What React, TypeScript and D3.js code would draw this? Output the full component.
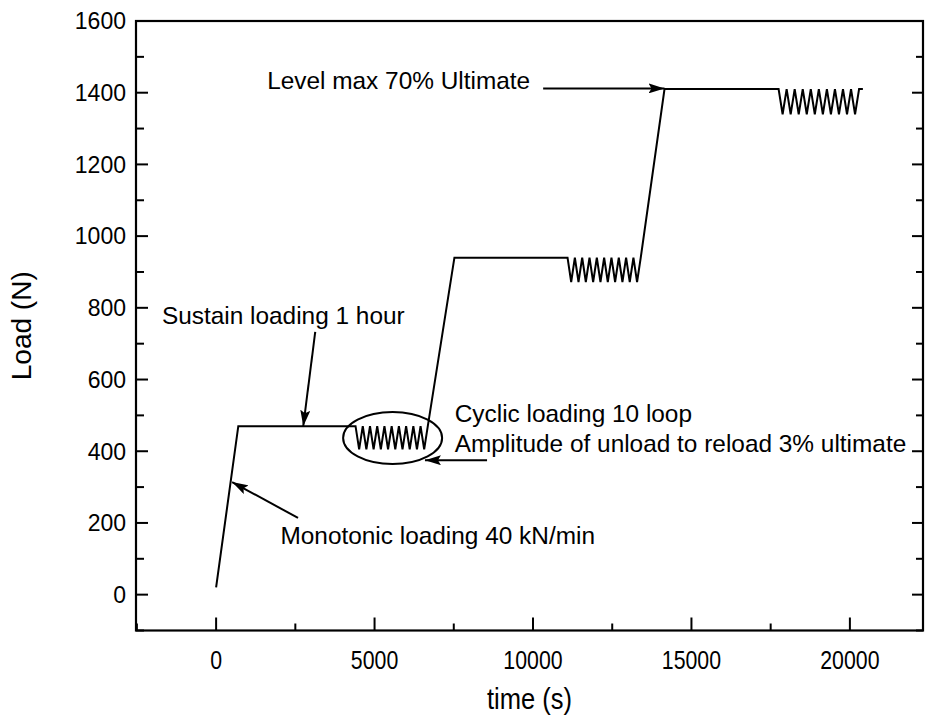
import React from "react";
import * as d3 from "d3";

// ---- data ----
const xMajorTicks = [0, 5000, 10000, 15000, 20000];
const xMinorTicks = [-2500, 2500, 7500, 12500, 17500];
const yMajorTicks = [0, 200, 400, 600, 800, 1000, 1200, 1400, 1600];
const yMinorTicks = [-100, 100, 300, 500, 700, 900, 1100, 1300, 1500];

const rampTime = [0, 700, 4400];
const rampLoad = [20, 470, 470];
const cycle1Time = [4514, 4628, 4742, 4856, 4970, 5084, 5198, 5312, 5426, 5540, 5654, 5768, 5882, 5996, 6110, 6224, 6338, 6452, 6566, 6680];
const cycle1Load = [405, 470, 405, 470, 405, 470, 405, 470, 405, 470, 405, 470, 405, 470, 405, 470, 405, 470, 405, 470];
const stage2Time = [7520, 11090];
const stage2Load = [940, 940];
const cycle2Time = [11205, 11321, 11436, 11552, 11667, 11783, 11898, 12014, 12129, 12245, 12360, 12476, 12591, 12707, 12822, 12938, 13053, 13169, 13284, 13400];
const cycle2Load = [872, 940, 872, 940, 872, 940, 872, 940, 872, 940, 872, 940, 872, 940, 872, 940, 872, 940, 872, 940];
const stage3Time = [14150, 17750];
const stage3Load = [1410, 1410];
const cycle3Time = [17877, 18004, 18131, 18258, 18385, 18512, 18639, 18766, 18893, 19020, 19147, 19274, 19401, 19528, 19655, 19782, 19909, 20036, 20163, 20290];
const cycle3Load = [1340, 1410, 1340, 1410, 1340, 1410, 1340, 1410, 1340, 1410, 1340, 1410, 1340, 1410, 1340, 1410, 1340, 1410, 1340, 1410];
const endTime = [20410];
const endLoad = [1410];

const timeAll = [...rampTime, ...cycle1Time, ...stage2Time, ...cycle2Time, ...stage3Time, ...cycle3Time, ...endTime];
const loadAll = [...rampLoad, ...cycle1Load, ...stage2Load, ...cycle2Load, ...stage3Load, ...cycle3Load, ...endLoad];

// annotation labels and their anchor points (data units)
const labels = [
  "Sustain loading 1 hour",
  "Monotonic loading 40 kN/min",
  "Cyclic loading 10 loop",
  "Amplitude of unload to reload 3% ultimate",
  "Level max 70% Ultimate",
];
const labelTime = [-1710, 2030, 7530, 7530, 1610];
const labelLoad = [755, 142, 481, 397, 1409];

// arrows: tail -> tip (data units)
const arrowTailTime = [3128, 2585, 8550, 10320];
const arrowTailLoad = [733, 214, 375, 1412];
const arrowTipTime = [2750, 505, 6590, 14150];
const arrowTipLoad = [470, 314, 375, 1412];

const ellipseCenter = [5570, 437];
const ellipseRadius = [1562, 72.5];

export default function App() {
  const W = 928;
  const H = 718;
  const left = 136, right = 923, top = 21, bottom = 630.5;

  const x = d3.scaleLinear().domain([-2528, 22307]).range([left, right]);
  const y = d3.scaleLinear().domain([-100, 1600]).range([bottom, top]);

  const line = d3
    .line<number>()
    .x((_, i) => x(timeAll[i]))
    .y((d) => y(d));
  const pathD = line(loadAll) || "";

  const font = "'Liberation Sans', Arial, sans-serif";

  const ex = x(ellipseCenter[0]);
  const ey = y(ellipseCenter[1]);
  const erx = x(ellipseCenter[0] + ellipseRadius[0]) - ex;
  const ery = ey - y(ellipseCenter[1] + ellipseRadius[1]);

  return (
    <svg
      width={W}
      height={H}
      style={{ position: "absolute", left: 0, top: 0, background: "#fff" }}
    >
      <defs>
        <marker
          id="ah"
          viewBox="0 0 16 10"
          refX="16"
          refY="5"
          markerWidth="16"
          markerHeight="10"
          markerUnits="userSpaceOnUse"
          orient="auto"
        >
          <path d="M0,0 L16,5 L0,10 L3,5 Z" fill="#000" />
        </marker>
      </defs>
      <rect x={0} y={0} width={W} height={H} fill="#fff" />

      {/* frame */}
      <rect
        x={left}
        y={top}
        width={right - left}
        height={bottom - top}
        fill="none"
        stroke="#000"
        strokeWidth={2.2}
      />

      {/* left / right ticks */}
      {yMajorTicks.map((v) => (
        <g key={"yl" + v}>
          <line x1={left} x2={left + 12} y1={y(v)} y2={y(v)} stroke="#000" strokeWidth={2} />
          <line x1={right} x2={right - 11} y1={y(v)} y2={y(v)} stroke="#000" strokeWidth={2} />
          <text
            x={left - 10}
            y={y(v)}
            dy="0.36em"
            textAnchor="end"
            fontFamily={font}
            fontSize={23}
            fill="#000"
          >
            {v}
          </text>
        </g>
      ))}
      {yMinorTicks.map((v) => (
        <g key={"ym" + v}>
          <line x1={left} x2={left + 8} y1={y(v)} y2={y(v)} stroke="#000" strokeWidth={2} />
          <line x1={right} x2={right - 7} y1={y(v)} y2={y(v)} stroke="#000" strokeWidth={2} />
        </g>
      ))}

      {/* bottom ticks */}
      {xMajorTicks.map((v) => (
        <g key={"xt" + v}>
          <line x1={x(v)} x2={x(v)} y1={bottom} y2={bottom - 13} stroke="#000" strokeWidth={2} />
          <text
            transform={`translate(${x(v)}, 669) scale(0.82, 1)`}
            textAnchor="middle"
            fontFamily={font}
            fontSize={26}
            fill="#000"
          >
            {v}
          </text>
        </g>
      ))}
      {xMinorTicks.map((v) => (
        <line key={"xm" + v} x1={x(v)} x2={x(v)} y1={bottom} y2={bottom - 7} stroke="#000" strokeWidth={2} />
      ))}

      {/* axis titles */}
      <text
        transform={`translate(${(left + right) / 2}, 709) scale(0.88, 1)`}
        textAnchor="middle"
        fontFamily={font}
        fontSize={29}
        fill="#000"
      >
        time (s)
      </text>
      <text
        transform={`translate(31, ${(top + bottom) / 2}) rotate(-90)`}
        textAnchor="middle"
        fontFamily={font}
        fontSize={28}
        fill="#000"
      >
        Load (N)
      </text>

      {/* data */}
      <path d={pathD} fill="none" stroke="#000" strokeWidth={2} strokeLinejoin="miter" />

      {/* ellipse */}
      <ellipse cx={ex} cy={ey} rx={erx} ry={ery} fill="none" stroke="#000" strokeWidth={2} />

      {/* arrows */}
      {arrowTailTime.map((t, i) => (
        <line
          key={"ar" + i}
          x1={x(t)}
          y1={y(arrowTailLoad[i])}
          x2={x(arrowTipTime[i])}
          y2={y(arrowTipLoad[i])}
          stroke="#000"
          strokeWidth={2}
          markerEnd="url(#ah)"
        />
      ))}

      {/* annotations */}
      {labels.map((s, i) => (
        <text
          key={"lb" + i}
          x={x(labelTime[i])}
          y={y(labelLoad[i])}
          fontFamily={font}
          fontSize={24.4}
          fill="#000"
        >
          {s}
        </text>
      ))}
    </svg>
  );
}
